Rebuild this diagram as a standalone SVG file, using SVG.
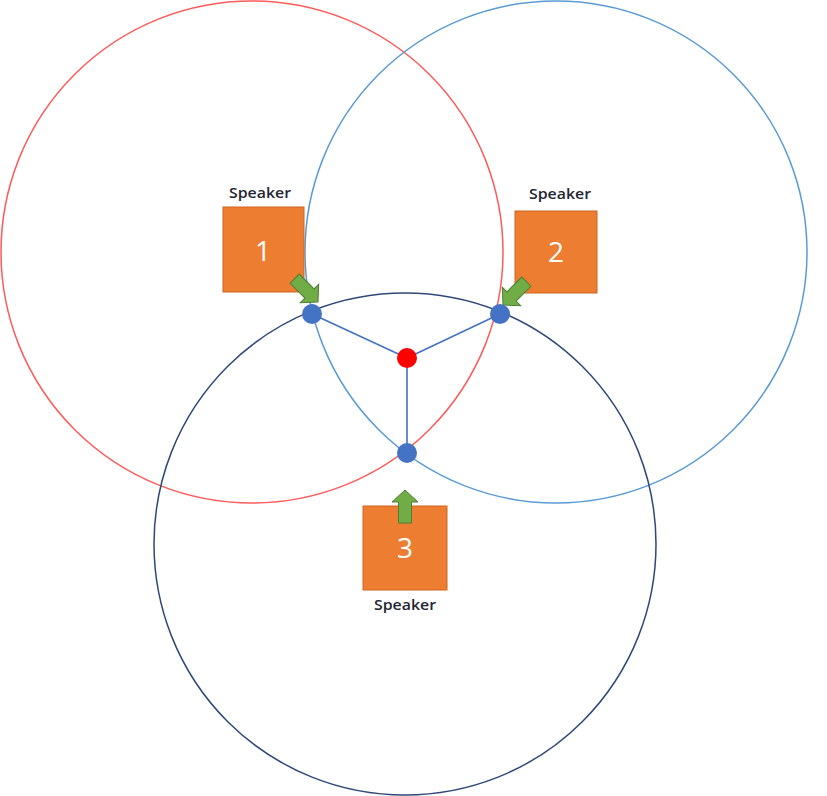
<svg xmlns="http://www.w3.org/2000/svg" width="827" height="796" viewBox="0 0 827 796">
<style>
.ring{fill:none;stroke-width:1.5}
.box{fill:#ED7D31;stroke:#D0651E;stroke-width:1}
.num{fill:#fff;font-family:"Open Sans","Liberation Sans",sans-serif;font-size:28px;text-anchor:middle}
.lbl{fill:#1f2533;font-family:"Open Sans","Liberation Sans",sans-serif;font-weight:600;font-size:14px;text-anchor:middle}
.dot{fill:#4472C4}
.link{stroke:#4472C4;stroke-width:1.6;fill:none}
.arr{fill:#70AD47;stroke:#507E32;stroke-width:1}
</style>
<defs>
<path id="arrow" d="M0,0 L13,12 L6.5,12 L6.5,33 L-6.5,33 L-6.5,12 L-13,12 Z"/>
</defs>
<rect width="827" height="796" fill="#fff"/>
<g id="circles">
<circle id="range1" class="ring" cx="252" cy="252" r="251" stroke="#FF5B5B"/>
<circle id="range2" class="ring" cx="556" cy="252" r="251" stroke="#5B9BD5"/>
<circle id="range3" class="ring" cx="405" cy="544" r="251" stroke="#2F4878"/>
</g>
<g id="connectors">
<line class="link" x1="407" y1="358" x2="312" y2="314"/>
<line class="link" x1="407" y1="358" x2="500" y2="314"/>
<line class="link" x1="407" y1="358" x2="407" y2="453"/>
</g>
<g id="speaker1">
<text class="lbl" x="260" y="198" textLength="62" lengthAdjust="spacingAndGlyphs">Speaker</text>
<rect class="box" x="223" y="207" width="81" height="85"/>
<text class="num" x="263" y="261">1</text>
<use href="#arrow" class="arr" transform="translate(318,302) rotate(135)"/>
</g>
<g id="speaker2">
<text class="lbl" x="560" y="199" textLength="62" lengthAdjust="spacingAndGlyphs">Speaker</text>
<rect class="box" x="515" y="211" width="82" height="82"/>
<text class="num" x="556" y="262">2</text>
<use href="#arrow" class="arr" transform="translate(503,305) rotate(-135)"/>
</g>
<g id="speaker3">
<rect class="box" x="363" y="506" width="84" height="84"/>
<text class="num" x="405" y="558">3</text>
<use href="#arrow" class="arr" transform="translate(405,490)"/>
<text class="lbl" x="405" y="610" textLength="62" lengthAdjust="spacingAndGlyphs">Speaker</text>
</g>
<g id="point1"><circle class="dot" cx="312" cy="314" r="10"/></g>
<g id="point2"><circle class="dot" cx="500" cy="314" r="10"/></g>
<g id="point3"><circle class="dot" cx="407" cy="453" r="10"/></g>
<g id="target"><circle cx="407" cy="358" r="10" fill="#FF0000"/></g>
</svg>
